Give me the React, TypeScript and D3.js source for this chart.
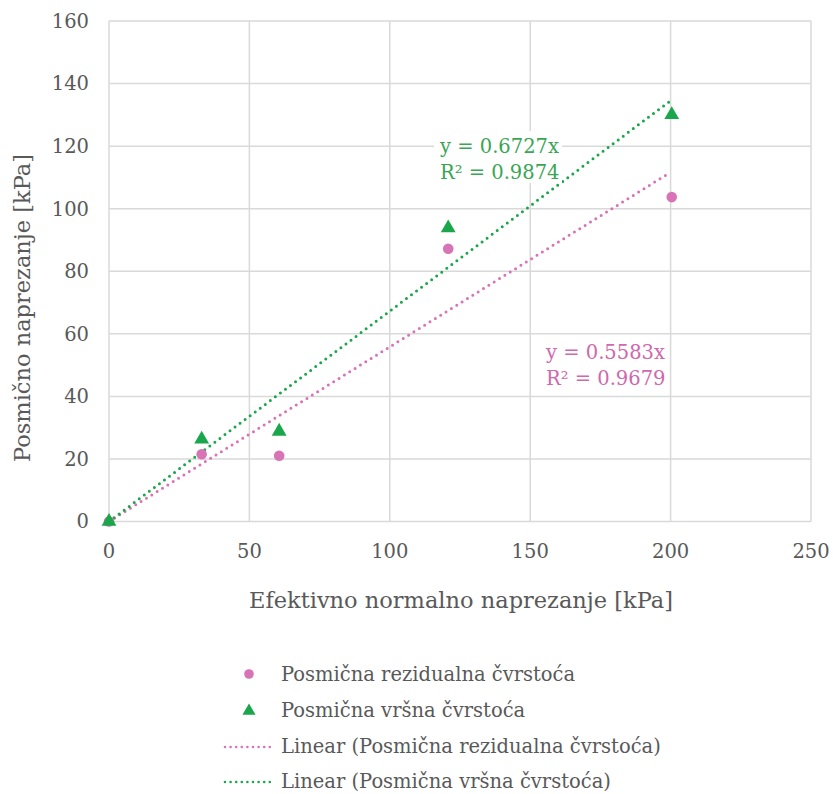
import React from "react";
import * as d3 from "d3";

const xTicks = [0, 50, 100, 150, 200, 250];
const yTicks = [0, 20, 40, 60, 80, 100, 120, 140, 160];
const residualX = [0, 33, 60.6, 120.8, 200.4];
const residualY = [0, 21.5, 21, 87.2, 103.7];
const peakX = [0, 33, 60.6, 120.8, 200.4];
const peakY = [0, 26.3, 28.8, 93.8, 130];
const slopes = [0.5583, 0.6727];
const r2 = [0.9679, 0.9874];
const seriesNames = ["Posmična rezidualna čvrstoća", "Posmična vršna čvrstoća"];
const trendMax = 200;

const PINK = "#d873b5";
const GREEN = "#1aa64a";
const PINK_TXT = "#d068ac";
const GREEN_TXT = "#3aa655";
const GRID = "#d9d9d9";
const FONT = "'DejaVu Serif', serif";
const TXT = "#595959";

export default function App() {
  const x = d3.scaleLinear().domain([0, 250]).range([109, 811]);
  const y = d3.scaleLinear().domain([0, 160]).range([521.5, 21]);
  const line = d3
    .line<[number, number]>()
    .x((d) => x(d[0]))
    .y((d) => y(d[1]));
  const tri = d3.symbol().type(d3.symbolTriangle).size(95)();
  const triL = d3.symbol().type(d3.symbolTriangle).size(75)();

  return (
    <svg
      width={833}
      height={794}
      style={{ position: "absolute", left: 0, top: 0, background: "#fff" }}
      fontFamily={FONT}
    >
      <rect width={833} height={794} fill="#fff" />
      {xTicks.map((t) => (
        <line key={"gx" + t} x1={x(t)} x2={x(t)} y1={y(160)} y2={y(0)} stroke={GRID} strokeWidth={1.5} />
      ))}
      {yTicks.map((t) => (
        <line key={"gy" + t} x1={x(0)} x2={x(250)} y1={y(t)} y2={y(t)} stroke={GRID} strokeWidth={1.5} />
      ))}
      {yTicks.map((t) => (
        <text key={"ty" + t} x={89} y={y(t)} dy="0.35em" textAnchor="end" fontSize={19.5} fill={TXT}>
          {t}
        </text>
      ))}
      {xTicks.map((t) => (
        <text key={"tx" + t} x={x(t)} y={558} textAnchor="middle" fontSize={19.5} fill={TXT}>
          {t}
        </text>
      ))}
      <text x={461} y={608} textAnchor="middle" fontSize={22.5} fill={TXT}>
        Efektivno normalno naprezanje [kPa]
      </text>
      <text
        transform={`translate(30,308) rotate(-90)`}
        textAnchor="middle"
        fontSize={22.5}
        fill={TXT}
      >
        Posmično naprezanje [kPa]
      </text>

      {/* trendlines */}
      <path
        d={line([[0, 0], [trendMax, slopes[0] * trendMax]])!}
        stroke={PINK}
        strokeWidth={3}
        strokeDasharray="0 6.3"
        strokeLinecap="round"
        fill="none"
      />
      <path
        d={line([[0, 0], [trendMax, slopes[1] * trendMax]])!}
        stroke={GREEN}
        strokeWidth={3}
        strokeDasharray="0 6.3"
        strokeLinecap="round"
        fill="none"
      />

      {/* points */}
      {residualX.map((v, i) => (
        <circle key={"r" + i} cx={x(v)} cy={y(residualY[i])} r={5.3} fill={PINK} />
      ))}
      {peakX.map((v, i) => (
        <path key={"p" + i} d={tri!} transform={`translate(${x(v)},${y(peakY[i])})`} fill={GREEN} />
      ))}

      {/* equation labels */}
      <rect x={434} y={131} width={128} height={52} fill="#fff" />
      <text x={440} y={153} fontSize={19.5} fill={GREEN_TXT}>
        y = {slopes[1].toFixed(4)}x
      </text>
      <text x={440} y={179} fontSize={19.5} fill={GREEN_TXT}>
        R² = {r2[1].toFixed(4)}
      </text>
      <rect x={540} y={337} width={128} height={52} fill="#fff" />
      <text x={546} y={359} fontSize={19.5} fill={PINK_TXT}>
        y = {slopes[0].toFixed(4)}x
      </text>
      <text x={546} y={385} fontSize={19.5} fill={PINK_TXT}>
        R² = {r2[0].toFixed(4)}
      </text>

      {/* legend */}
      <circle cx={249} cy={674} r={4.8} fill={PINK} />
      <text x={281} y={681} fontSize={19.5} fill={TXT}>
        {seriesNames[0]}
      </text>
      <path d={triL!} transform={`translate(249,711)`} fill={GREEN} />
      <text x={281} y={717} fontSize={19.5} fill={TXT}>
        {seriesNames[1]}
      </text>
      <line x1={225} x2={275} y1={747} y2={747} stroke={PINK} strokeWidth={2.6} strokeDasharray="0 5.6" strokeLinecap="round" />
      <text x={281} y={753} fontSize={19.5} fill={TXT}>
        Linear ({seriesNames[0]})
      </text>
      <line x1={225} x2={275} y1={782} y2={782} stroke={GREEN} strokeWidth={2.6} strokeDasharray="0 5.6" strokeLinecap="round" />
      <text x={281} y={788} fontSize={19.5} fill={TXT}>
        Linear ({seriesNames[1]})
      </text>
    </svg>
  );
}
